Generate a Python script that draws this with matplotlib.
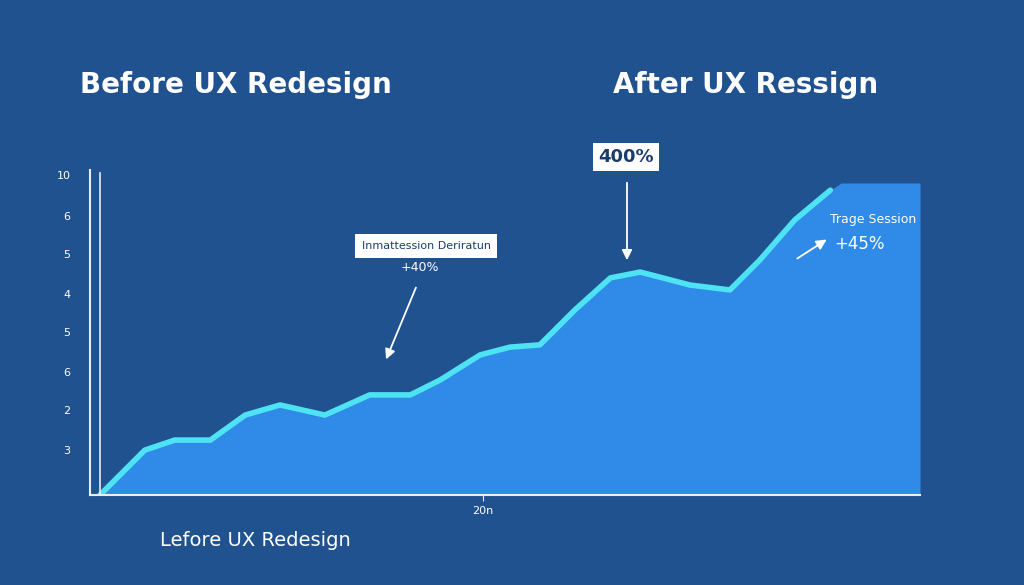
import matplotlib.pyplot as plt
import numpy as np

plt.rcParams['font.family'] = ['DejaVu Sans']

# curve (x: 0-100 timeline, y: 0-10 scale)
x_vals = [1.2, 6.6, 10.2, 14.5, 18.7, 22.9, 28.3, 33.7, 38.6, 42.2, 47.0, 50.6,
          54.2, 58.4, 62.7, 66.3, 72.3, 77.1, 80.7, 84.9, 89.2, 92.8]
y_vals = [0.0, 1.38, 1.69, 1.69, 2.46, 2.77, 2.46, 3.08, 3.08, 3.54, 4.31, 4.55,
          4.62, 5.69, 6.68, 6.86, 6.46, 6.31, 7.23, 8.46, 9.38, 9.94]
plateau = 9.6
ytick_pos = [9.85, 8.6, 7.4, 6.2, 5.0, 3.8, 2.6, 1.4]
ytick_lab = ['10', '6', '5', '4', '5', '6', '2', '3']

bg = '#215290'
fill_c = '#2f8ae8'
line_c = '#4ee3f2'

W, H = 1024, 585
fig = plt.figure(figsize=(W / 100, H / 100), dpi=100, facecolor=bg)

def fx(px):
    return px / W

def fy(py):
    return 1 - py / H

ax = fig.add_axes([fx(90), fy(495), (920 - 90) / W, (495 - 170) / H])
ax.set_facecolor(bg)
ax.set_xlim(0, 100)
ax.set_ylim(0, 10)

# fill under the curve, flattening into the right-hand plateau
fx_pts = x_vals[:-1] + [90.5, 100]
fy_pts = y_vals[:-1] + [plateau, plateau]
ax.fill_between(fx_pts, fy_pts, 0, color=fill_c, lw=0)
ax.plot(x_vals[:-1], y_vals[:-1], color=line_c, lw=4, solid_joinstyle='round',
        solid_capstyle='round')
ax.annotate('', xy=(94.5, 10.3), xytext=(x_vals[-3], y_vals[-3]),
            arrowprops=dict(arrowstyle='-|>,head_width=0.9,head_length=1.2',
                            color=line_c, lw=4))

for s in ['top', 'right']:
    ax.spines[s].set_visible(False)
for s in ['left', 'bottom']:
    ax.spines[s].set_color('#e8eef8')
    ax.spines[s].set_linewidth(1.5)
ax.axvline(1.2, ymin=0, ymax=0.99, color='#e8eef8', lw=1.2)

ax.set_yticks(ytick_pos)
ax.set_yticklabels(ytick_lab, color='white', fontsize=8)
ax.tick_params(axis='y', length=0, pad=14)
ax.set_xticks([47.3])
ax.set_xticklabels(['20n'], color='white', fontsize=8)
ax.tick_params(axis='x', length=4, color='#e8eef8', pad=4)

# titles
fig.text(fx(80), fy(85), 'Before UX Redesign', color='white', fontsize=20,
         va='center', fontweight='semibold')
fig.text(fx(613), fy(85), 'After UX Ressign', color='white', fontsize=20,
         va='center', fontweight='semibold')
fig.text(fx(160), fy(540), 'Lefore UX Redesign', color='white', fontsize=14,
         va='center')

# annotations
fig.text(fx(626), fy(157), '400%', color='#1b3d6e', fontsize=13, ha='center',
         va='center', fontweight='bold',
         bbox=dict(boxstyle='square,pad=0.3', fc='white', ec='none'))
fig.text(fx(426), fy(246), 'Inmattession Deriratun', color='#1b3d6e', fontsize=8,
         ha='center', va='center',
         bbox=dict(boxstyle='square,pad=0.6', fc='white', ec='none'))
fig.text(fx(420), fy(268), '+40%', color='white', fontsize=9, ha='center', va='center')
fig.text(fx(873), fy(220), 'Trage Session', color='white', fontsize=9,
         ha='center', va='center')
fig.text(fx(859), fy(244), '+45%', color='white', fontsize=12, ha='center',
         va='center')

arrow = dict(arrowstyle='-|>,head_width=0.3,head_length=0.6', color='white', lw=1.3)
fig.add_artist(plt.matplotlib.patches.FancyArrowPatch(
    (fx(627), fy(180)), (fx(627), fy(263)), transform=fig.transFigure,
    mutation_scale=10, **arrow))
fig.add_artist(plt.matplotlib.patches.FancyArrowPatch(
    (fx(417), fy(285)), (fx(385), fy(362)), transform=fig.transFigure,
    mutation_scale=10, **arrow))
fig.add_artist(plt.matplotlib.patches.FancyArrowPatch(
    (fx(795), fy(260)), (fx(829), fy(238)), transform=fig.transFigure,
    mutation_scale=10, **arrow))

fig.savefig('out.png', dpi=100, facecolor=bg)
